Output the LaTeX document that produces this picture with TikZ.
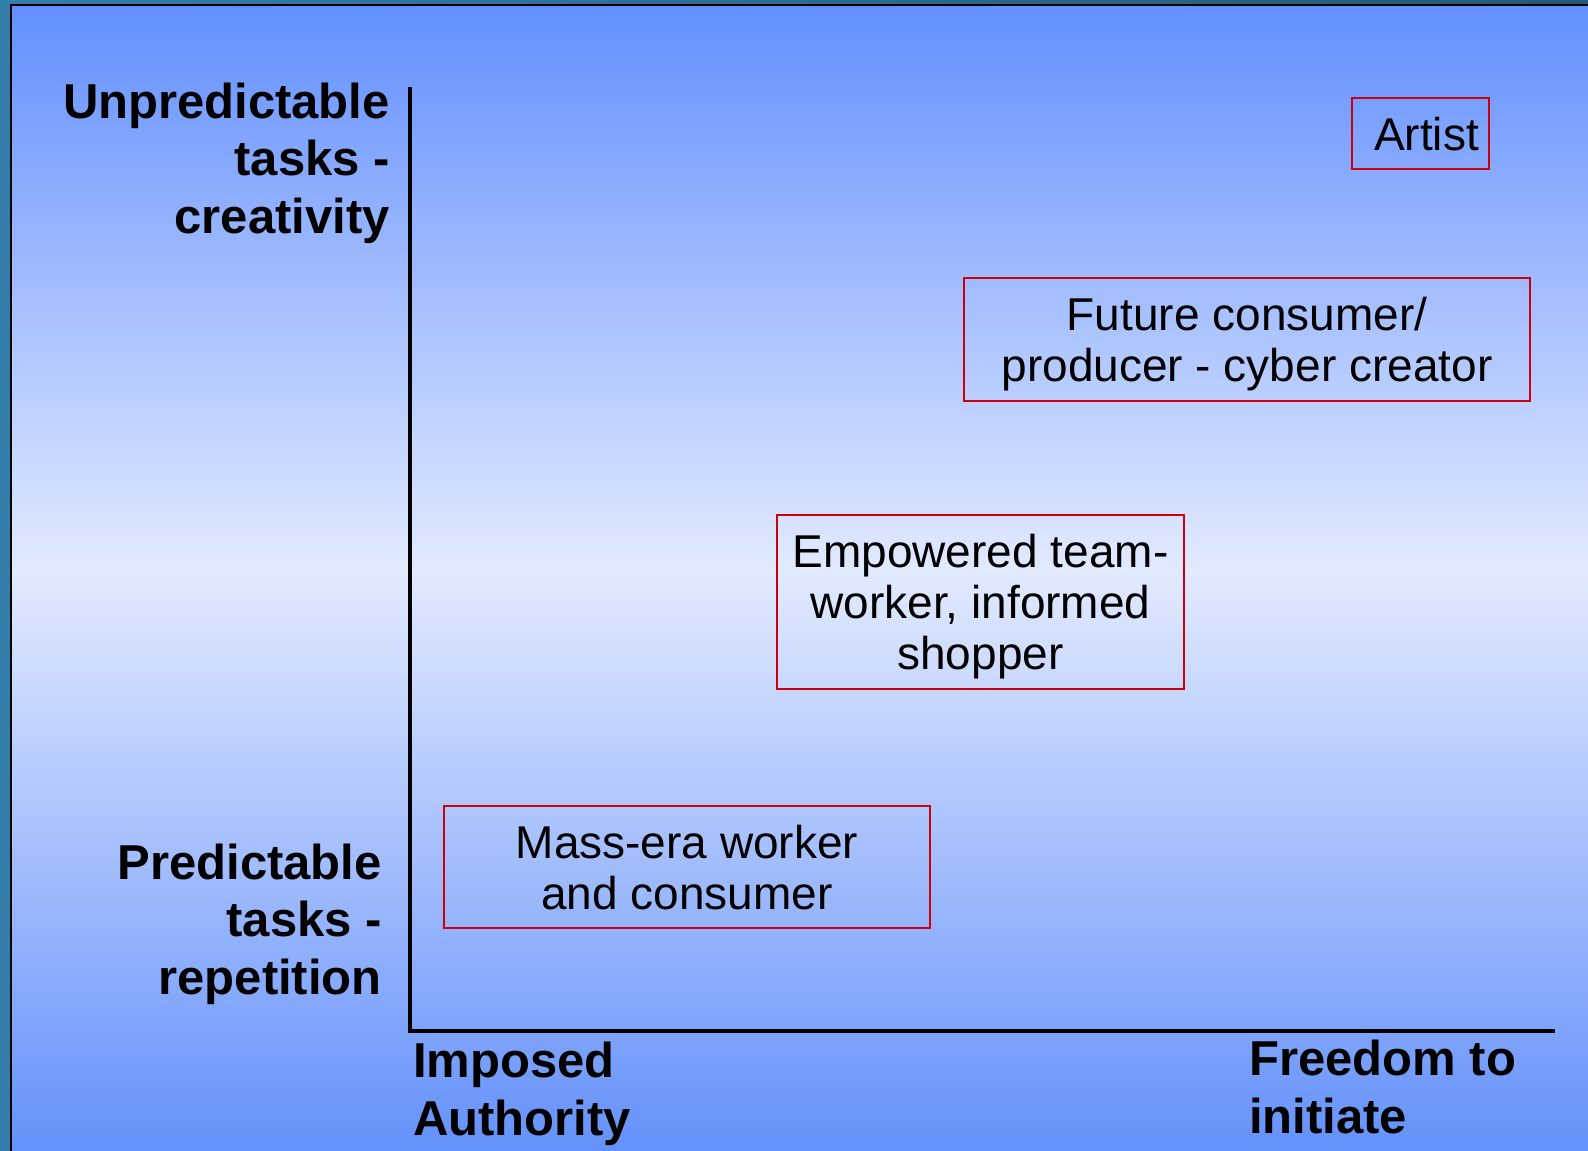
\documentclass[tikz,border=0pt]{standalone}
\usepackage{fontspec}
\setmainfont{Liberation Sans}
\definecolor{framestrip}{RGB}{52,126,172}
\definecolor{framedark}{RGB}{36,88,120}
\definecolor{bgtop}{RGB}{99,144,254}
\definecolor{bgmid}{RGB}{226,234,255}
\definecolor{bgbot}{RGB}{100,145,250}
\definecolor{boxred}{RGB}{204,0,10}
\tikzset{
  axisline/.style={line width=4pt, line cap=rect},
  axislabel/.style={inner sep=0pt, font=\fontsize{49}{57.5}\selectfont\bfseries},
  rolebox/.style={draw=boxred, line width=2pt, inner sep=0pt, align=center,
    text depth=0pt, font=\fontsize{46}{51}\selectfont}
}
\begin{document}
\begin{tikzpicture}[x=1pt,y=-1pt]
\useasboundingbox (0,0) rectangle (1588,1151);
% frame
\fill[framestrip] (0,0) rectangle (10,1151);
\shade[left color=framestrip, right color=framedark] (0,0) rectangle (1588,4);
\fill[black] (10,4) rectangle (1588,6);
\fill[black] (10,4) rectangle (12,1151);
% background gradient
\shade[top color=bgtop, bottom color=bgmid] (12,6) rectangle (1588,571);
\shade[top color=bgmid, bottom color=bgbot] (12,570) rectangle (1588,1151);
% axes
\coordinate (ytop) at (410,89);
\coordinate (origin) at (410,1031);
\coordinate (xend) at (1553,1031);
\draw[axisline] (ytop) -- (origin) -- (xend);
% axis labels (base anchor = last line's baseline)
\node[axislabel, anchor=base east, align=right] (unpred) at (390,233) {Unpredictable\\tasks -\\creativity};
\node[axislabel, anchor=base east, align=right] (pred) at (382,994) {Predictable\\tasks -\\repetition};
\node[axislabel, anchor=base west, align=left] (imposed) at (413,1135) {Imposed\\Authority};
\node[axislabel, anchor=base west, align=left] (freedom) at (1249,1133) {Freedom to\\initiate};
% role boxes
\node[rolebox, minimum width=137pt, minimum height=71pt] (artist) at (1420.5,133.5) {\hspace*{12pt}Artist};
\node[rolebox, minimum width=566pt, minimum height=123pt] (future) at (1247,339.5) {Future consumer/\\producer - cyber creator};
\node[rolebox, minimum width=407pt, minimum height=174pt] (empowered) at (980.5,602) {Empowered team-\\worker, informed\\shopper};
\node[rolebox, minimum width=486pt, minimum height=122pt] (mass) at (687,867) {Mass-era worker\\and consumer};
\end{tikzpicture}
\end{document}
